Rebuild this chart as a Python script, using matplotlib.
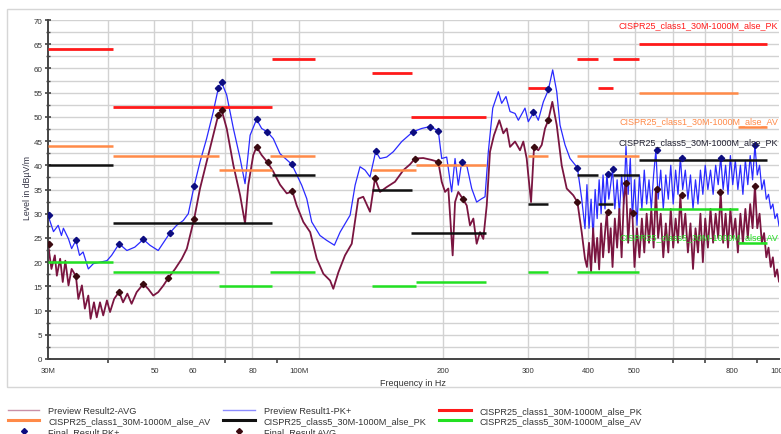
import matplotlib
matplotlib.use('Agg')
import matplotlib.pyplot as plt
from matplotlib.lines import Line2D
from matplotlib.patches import Rectangle
from matplotlib.ticker import FixedLocator, NullFormatter, FixedFormatter

plt.rcParams['font.family'] = ['Liberation Sans', 'DejaVu Sans']

# ---------------- data (frequency in MHz, level in dBuV/m) ----------------
pk_freq = [30.0, 30.8, 31.5, 32.0, 32.3, 33.1, 33.6, 34.3, 34.9, 35.5, 36.4, 37.3, 38.5, 39.8, 40.7,
           42.2, 43.8, 45.5, 47.4, 48.9, 50.9, 52.6, 53.9, 55.6, 57.4, 58.8, 60.5, 62.2, 64.2, 66.3,
           67.9, 69.0, 70.7, 73.0, 75.4, 77.2, 79.1, 81.6, 83.6, 85.9, 88.4, 91.3, 96.6, 101.3, 103.8,
           106.3, 110.6, 114.2, 118.5, 121.8, 127.8, 130.9, 134.0, 137.3, 140.6, 144.5, 147.5, 152.3,
           157.2, 163.7, 172.6, 180.1, 187.5, 195.1, 198.3, 203.1, 208.0, 211.4, 214.7, 218.2, 223.6,
           229.0, 234.5, 240.2, 244.1, 248.0, 253.3, 260.2, 264.4, 269.9, 275.2, 281.9, 286.4, 295.7,
           300.4, 308.8, 315.2, 322.9, 330.6, 337.7, 344.3, 349.8, 358.3, 367.0, 380.2, 388.1, 394.3,
           398, 402, 406, 410, 414, 418, 422, 426, 430, 434, 438, 442, 446, 450, 455, 460, 465, 470,
           475, 480, 485, 490, 495, 500, 506, 512, 518, 524, 530, 536, 542, 548, 554, 560, 567, 574,
           581, 588, 595, 602, 609, 616, 623, 630, 638, 646, 654, 662, 670, 678, 686, 694, 702, 711,
           720, 729, 738, 747, 756, 765, 774, 783, 792, 801, 811, 821, 831, 841, 851, 861, 871, 881,
           891, 901, 911, 921, 931, 941, 951, 961, 971, 981, 991, 1000]
pk_level = [29.7, 26.3, 27.6, 25.5, 27.0, 24.8, 22.8, 24.5, 21.4, 22.1, 18.6, 19.7, 20.0, 20.3, 21.4,
            23.8, 22.4, 23.1, 24.7, 23.5, 22.4, 24.5, 26.1, 27.6, 28.6, 30.0, 35.8, 40.7, 45.5, 51.1,
            55.9, 57.1, 54.5, 47.6, 41.4, 36.2, 46.2, 49.5, 47.6, 46.9, 45.5, 42.4, 40.2, 35.9, 33.1,
            28.3, 25.5, 24.5, 23.5, 26.2, 29.7, 35.9, 39.7, 39.0, 37.6, 42.9, 41.4, 41.7,
            42.8, 44.9, 46.9, 47.6, 48.0, 47.1, 41.4, 41.7, 34.5, 41.4, 35.9, 40.6, 40.0,
            35.2, 32.4, 33.1, 33.5, 42.8, 51.8, 55.2, 52.8, 54.2, 51.1, 50.7, 49.3, 51.8,
            49.0, 51.1, 49.3, 53.1, 55.5, 59.7, 55.2, 48.3, 44.2, 41.4, 39.5, 33.1, 26.9,
            36, 27, 33, 25, 35, 29, 37, 30, 38, 31, 38.3, 33, 36, 39.2, 31, 37, 30, 38,
            32, 43.9, 34, 41.4, 29, 37, 27.6, 38, 31, 39, 32, 37, 31, 38, 43.1, 33, 39, 31,
            38, 33, 40, 32, 39, 34, 41.6, 35, 39, 33, 38, 31, 37, 32, 39, 34, 40, 35,
            39, 34, 40, 36, 41.6, 35, 40, 34, 42, 36, 41, 35, 40, 34, 41, 36, 42, 37,
            44.2, 38, 40, 35, 37, 33, 34, 31, 32, 29, 30, 27.5]

avg_freq = [30.0, 30.5, 31.0, 31.3, 31.8, 32.2, 32.6, 33.1, 33.6, 34.3, 34.7, 35.3, 35.8, 36.4, 36.8,
            37.4, 37.9, 38.5, 39.1, 39.8, 40.4, 41.2, 42.2, 43.0, 43.9, 44.8, 45.9, 47.4, 48.5, 49.7,
            50.9, 52.2, 53.4, 55.2, 57.0, 58.4, 59.8, 60.5, 62.2, 64.2, 66.3, 67.9, 69.0, 70.7, 73.0,
            75.4, 77.2, 78.4, 80.3, 81.6, 83.6, 86.0, 88.4, 91.3, 94.3, 96.9, 98.9, 102.1, 105.5,
            108.9, 112.4, 116.1, 117.9, 120.8, 124.7, 128.8, 132.9, 136.1, 140.6, 144.0, 147.5,
            152.3, 158.5, 165.0, 170.4, 174.5, 181.5, 189.0, 195.1, 198.3, 201.5, 204.7, 209.0,
            211.4, 214.7, 219.3, 223.6, 227.1, 230.8, 234.5, 238.3, 242.1, 246.1, 250.0, 254.8,
            261.4, 266.5, 270.9, 275.2, 281.9, 288.7, 293.3, 298.1, 300.4, 304.4, 308.8, 315.2,
            320.4, 325.5, 330.6, 337.1, 344.3, 352.6, 361.2, 372.8, 380.2, 388.1, 394.3,
            398, 402, 406, 410, 414, 418, 422, 426, 430, 434, 438, 442, 446, 450, 455, 460, 465, 470,
            475, 480, 485, 490, 495, 500, 506, 512, 518, 524, 530, 536, 542, 548, 554, 560, 567, 574,
            581, 588, 595, 602, 609, 616, 623, 630, 638, 646, 654, 662, 670, 678, 686, 694, 702, 711,
            720, 729, 738, 747, 756, 765, 774, 783, 792, 801, 811, 821, 831, 841, 851, 861, 871, 881,
            891, 901, 911, 921, 931, 941, 951, 961, 971, 981, 991, 1000]
avg_level = [23.8, 18.6, 21.4, 17.2, 20.7, 15.9, 20.3, 15.2, 18.6, 17.1, 12.4, 15.2, 10.4, 13.1, 8.3,
             11.7, 8.6, 11.7, 9.0, 12.1, 9.7, 12.4, 13.9, 11.7, 13.5, 11.4, 13.8, 15.5, 14.5, 13.1,
             13.8, 15.2, 16.7, 18.6, 20.7, 22.8, 26.9, 29.0, 35.2, 40.7, 46.2, 50.4, 51.4, 47.6, 40.0,
             33.8, 28.0, 35.9, 42.1, 43.8, 42.1, 40.6, 38.7, 36.0, 34.2, 34.6, 31.7, 28.3, 26.2,
             20.7, 17.6, 16.2, 14.5, 17.9, 21.4, 23.8, 33.1, 33.5, 30.4, 37.3, 34.5,
             35.5, 36.6, 39.0, 40.2, 41.4, 41.5, 41.1, 40.7, 36.6, 34.5, 35.2, 21.4,
             32.4, 34.5, 33.1, 31.7, 27.6, 29.0, 23.8, 26.2, 24.8, 31.7, 42.8, 46.2,
             49.3, 46.6, 47.6, 43.8, 44.9, 43.1, 44.9, 41.4, 38.0, 32.4, 43.8, 43.1,
             44.2, 47.6, 49.3, 53.1, 48.3, 40.0, 35.2, 33.8, 32.4, 26.2, 20.7,
             19, 24, 18, 27, 20, 25, 18.5, 28, 21, 26, 30.3, 22, 27, 19, 29, 23, 31, 21,
             33, 36.3, 24, 31, 30.1, 19, 27, 21, 29, 22, 30, 24, 31, 23, 35.2, 25, 30, 21,
             28, 22, 31, 23, 29, 24, 33.8, 25, 30, 22, 28, 18.6, 27, 22, 30, 20, 29, 23,
             31, 24, 30, 25, 34.4, 24, 30, 23, 31, 25, 29, 22, 30, 24, 31, 25, 32, 27,
             35.8, 27, 30, 24, 26, 21, 23, 19, 21, 17, 18.5, 16]

final_pk_freq = [30.2, 34.3, 42.2, 47.4, 53.9, 60.5, 67.9, 69.0, 81.6, 85.9, 96.6, 144.5, 172.6,
                 187.5, 195.1, 218.2, 307.8, 330.6, 380.2, 439.8, 450.6, 556, 627, 757, 891]
final_pk_level = [29.7, 24.5, 23.8, 24.7, 26.1, 35.8, 55.9, 57.1, 49.5, 46.9, 40.2, 42.9, 46.9,
                  48.0, 47.1, 40.6, 51.1, 55.7, 39.5, 38.3, 39.2, 43.1, 41.6, 41.6, 44.2]
final_avg_freq = [30.2, 34.3, 42.2, 47.4, 53.4, 60.5, 67.9, 69.0, 81.6, 86.0, 96.9, 144.0, 174.5,
                  195.1, 219.3, 308.8, 330.6, 380.2, 440.5, 480, 496.5, 556, 627, 752, 891]
final_avg_level = [23.8, 17.1, 13.9, 15.5, 16.7, 29.0, 50.4, 51.4, 43.8, 40.6, 34.6, 37.3, 41.4,
                   40.7, 33.1, 43.8, 49.3, 32.4, 30.3, 36.3, 30.1, 35.2, 33.8, 34.4, 35.8]

# limit lines: segment start / stop (MHz) and level
c1pk_start = [30, 41, 88, 142, 171, 300, 380, 420, 450, 512]
c1pk_stop = [41, 88, 108, 172, 245, 330, 420, 450, 512, 944]
c1pk_level = [64, 52, 62, 59, 50, 56, 62, 56, 62, 65]

c1av_start = [30, 41, 68, 87, 142, 175, 300, 380, 512, 820]
c1av_stop = [41, 68, 88, 108, 175, 245, 330, 512, 820, 944]
c1av_level = [44, 42, 39, 42, 39, 40, 42, 42, 55, 48]

c5pk_start = [30, 41, 88, 142, 171, 300, 380, 420, 450, 512]
c5pk_stop = [41, 88, 108, 172, 245, 330, 420, 450, 512, 944]
c5pk_level = [40, 28, 38, 35, 26, 32, 38, 32, 38, 41]

c5av_start = [30, 41, 68, 87, 142, 175, 300, 380, 512, 820]
c5av_stop = [41, 68, 88, 108, 175, 245, 330, 512, 820, 944]
c5av_level = [20, 18, 15, 18, 15, 16, 18, 18, 31, 24]

xtick_pos = [30, 50, 60, 80, 100, 200, 300, 400, 500, 800, 1000]
xtick_lab = ['30M', '50', '60', '80', '100M', '200', '300', '400', '500', '800', '1000']
xminor_pos = [40, 70, 90, 600, 700, 900]
vgrid_pos = [40, 50, 60, 70, 80, 100, 200, 300, 400, 500, 600, 700, 800]

name_c1pk = 'CISPR25_class1_30M-1000M_alse_PK'
name_c1av = 'CISPR25_class1_30M-1000M_alse_AV'
name_c5pk = 'CISPR25_class5_30M-1000M_alse_PK'
name_c5av = 'CISPR25_class5_30M-1000M_alse_AV'

# ---------------- figure ----------------
W, H = 781, 435
fig = plt.figure(figsize=(W / 100, H / 100), dpi=100)
fig.patches.append(Rectangle((7 / W, 1 - 388 / H), 1.0, (388 - 10) / H, transform=fig.transFigure,
                             fill=False, edgecolor='#d6d6d6', lw=1.0))

ax = fig.add_axes([48 / W, 1 - 360 / H, 731 / W, (360 - 21) / H])
ax.set_xscale('log')
ax.set_xlim(30, 1000)
ax.set_ylim(0, 70)

for f in vgrid_pos:
    ax.axvline(f, color='#d2d2d2', lw=1.0, zorder=0)
for i in range(1, 29):
    ax.axhline(i * 2.5, color='#d2d2d2', lw=1.0, zorder=0)

C_RED = '#ff1a1a'
C_ORA = '#ff8a48'
C_BLK = '#111111'
C_GRN = '#22e022'
ax.hlines(c1pk_level, c1pk_start, c1pk_stop, colors=C_RED, lw=2.0, zorder=3)
ax.hlines(c1av_level, c1av_start, c1av_stop, colors=C_ORA, lw=1.8, zorder=3)
ax.hlines(c5pk_level, c5pk_start, c5pk_stop, colors=C_BLK, lw=1.8, zorder=3)
ax.hlines(c5av_level, c5av_start, c5av_stop, colors=C_GRN, lw=1.8, zorder=3)

C_PK = '#2a2aff'
C_AVG = '#7a1540'
ax.plot(pk_freq, pk_level, color=C_PK, lw=0.9, zorder=2)
ax.plot(avg_freq, avg_level, color=C_AVG, lw=1.3, zorder=2)
ax.plot(final_pk_freq, final_pk_level, 'D', color='#0c0c80', ms=3.2, zorder=5)
ax.plot(final_avg_freq, final_avg_level, 'D', color='#3a0a10', ms=3.2, zorder=5)

# axes styling
for s in ['top', 'right']:
    ax.spines[s].set_visible(False)
for s in ['left', 'bottom']:
    ax.spines[s].set_color('#444444')
    ax.spines[s].set_linewidth(1.4)

ax.xaxis.set_major_locator(FixedLocator(xtick_pos))
ax.xaxis.set_major_formatter(FixedFormatter(xtick_lab))
ax.xaxis.set_minor_locator(FixedLocator(xminor_pos))
ax.xaxis.set_minor_formatter(NullFormatter())
ax.tick_params(axis='x', which='major', length=0, pad=6, labelsize=5.6, labelcolor='#333333')
ax.tick_params(axis='x', which='minor', length=3, width=1.2, color='#444444', direction='out')

ax.set_yticks(range(0, 71, 5))
ax.set_yticks([2.5 + 5 * i for i in range(14)], minor=True)
ax.tick_params(axis='y', which='major', length=4, width=1.2, direction='inout', color='#444444',
               pad=2, labelsize=5.8, labelcolor='#333333')
ax.tick_params(axis='y', which='minor', length=3, width=1.0, direction='inout', color='#444444')

fig.text(27 / W, 1 - 188 / H, 'Level in dBµV/m', rotation=90, ha='center', va='center',
         fontsize=6.3, color='#333344')
fig.text(413 / W, 1 - 384 / H, 'Frequency in Hz', ha='center', va='center', fontsize=6.5,
         color='#333333')

# limit labels
fig.text(778 / W, 1 - 26 / H, name_c1pk, ha='right', va='center', fontsize=6.5, color=C_RED)
fig.text(778 / W, 1 - 122 / H, name_c1av, ha='right', va='center', fontsize=6.5, color=C_ORA)
fig.text(778 / W, 1 - 142.5 / H, name_c5pk, ha='right', va='center', fontsize=6.5, color='#222233')
fig.text(778 / W, 1 - 238 / H, name_c5av, ha='right', va='center', fontsize=6.5, color=C_GRN)

# legend
handles = [
    Line2D([], [], color='#c890a8', lw=1.0),
    Line2D([], [], color=C_ORA, lw=2.2),
    Line2D([], [], ls='none', marker='D', color='#0c0c80', ms=3),
    Line2D([], [], color='#8c8cff', lw=1.0),
    Line2D([], [], color=C_BLK, lw=2.2),
    Line2D([], [], ls='none', marker='D', color='#3a0a10', ms=3),
    Line2D([], [], color=C_RED, lw=2.2),
    Line2D([], [], color=C_GRN, lw=2.2),
]
labels = ['Preview Result2-AVG', name_c1av, 'Final_Result PK+',
          'Preview Result1-PK+', name_c5pk, 'Final_Result AVG',
          name_c1pk, name_c5av]
fig.legend(handles, labels, loc='upper left', bbox_to_anchor=(8 / W, 1 - 407 / H), ncol=3,
           frameon=False, fontsize=6.6, handlelength=3.4, handletextpad=1.0, columnspacing=1.4,
           labelspacing=0.15, borderpad=0, borderaxespad=0, labelcolor='#333333')

fig.savefig('out.png', dpi=100)
